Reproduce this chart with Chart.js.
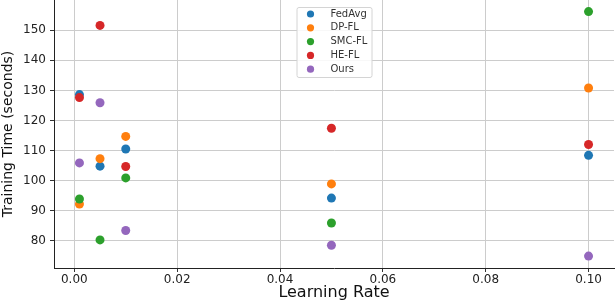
<!DOCTYPE html>
<html>
<head>
<meta charset="utf-8">
<script src="https://cdn.jsdelivr.net/npm/chart.js@4.4.1/dist/chart.umd.min.js"></script>
<style>
  body { margin: 0; background: #fff; }
  canvas { display: block; }
</style>
</head>
<body>
<canvas id="lrChart" width="616" height="302"></canvas>
<script>
// data
const learningRates = [0.001, 0.005, 0.01, 0.05, 0.1];
const methods = ["FedAvg", "DP-FL", "SMC-FL", "HE-FL", "Ours"];
const fedAvg = [128.6, 104.8, 110.5, 94.2, 108.4];
const dpFl = [92.2, 107.3, 114.7, 98.9, 130.8];
const smcFl = [93.9, 80.3, 100.9, 85.9, 156.2];
const heFl = [127.6, 151.6, 104.7, 117.4, 112.0];
const ours = [105.9, 125.9, 83.4, 78.5, 74.9];
const xTicks = [0, 0.02, 0.04, 0.06, 0.08, 0.1];
const yTicks = [80, 90, 100, 110, 120, 130, 140, 150];

const colors = ["#1f77b4", "#ff7f0e", "#2ca02c", "#d62728", "#9467bd"];
const series = [fedAvg, dpFl, smcFl, heFl, ours];

const datasets = series.map((vals, i) => ({
  label: methods[i],
  data: vals.map((v, j) => ({ x: learningRates[j], y: v })),
  backgroundColor: colors[i],
  borderColor: colors[i],
  borderWidth: 0,
  pointRadius: 4.5,
  order: series.length - i,
}));

// matplotlib-like legend drawn inside the plot area
const innerLegend = {
  id: "innerLegend",
  afterDraw(chart) {
    const ctx = chart.ctx;
    const area = chart.chartArea;
    const w = 75, h = 70;
    const left = (area.left + area.right) / 2 - w / 2;
    const top = area.top + 7;
    ctx.save();
    ctx.fillStyle = "rgba(255,255,255,0.85)";
    ctx.strokeStyle = "#d4d4d4";
    ctx.lineWidth = 1;
    ctx.beginPath();
    ctx.roundRect(left + 0.5, top + 0.5, w, h, 2);
    ctx.fill();
    ctx.stroke();
    ctx.font = "10px 'DejaVu Sans'";
    ctx.textBaseline = "middle";
    methods.forEach((name, i) => {
      const y = top + 7 + i * 13.8;
      ctx.fillStyle = colors[i];
      ctx.beginPath();
      ctx.arc(left + 14, y, 3.6, 0, Math.PI * 2);
      ctx.fill();
      ctx.fillStyle = "#333";
      ctx.fillText(name, left + 34, y);
    });
    ctx.restore();
  },
};

new Chart(document.getElementById("lrChart").getContext("2d"), {
  type: "scatter",
  data: { datasets },
  options: {
    responsive: false,
    animation: false,
    devicePixelRatio: 1,
    layout: { autoPadding: false, padding: { top: 0, right: 2, left: 0, bottom: 0 } },
    plugins: {
      legend: { display: false },
      tooltip: { enabled: false },
    },
    scales: {
      x: {
        type: "linear",
        min: -0.00395,
        max: 0.10495,
        afterBuildTicks: (scale) => {
          scale.ticks = xTicks.map((v) => ({ value: v }));
        },
        afterFit: (scale) => {
          scale.height = 34;
          scale.paddingLeft = 0;
          scale.paddingRight = 0;
        },
        ticks: {
          padding: 1,
          color: "#222",
          font: { family: "DejaVu Sans", size: 12 },
          callback: (v) => v.toFixed(2),
        },
        grid: { color: "#cccccc", tickColor: "#333", tickLength: 4 },
        border: { display: true, color: "#222", width: 1 },
        title: {
          display: true,
          text: "Learning Rate",
          color: "#111",
          font: { family: "DejaVu Sans", size: 16 },
          padding: { top: 0, bottom: 0 },
        },
      },
      y: {
        type: "linear",
        min: 70.95,
        max: 160.05,
        afterBuildTicks: (scale) => {
          scale.ticks = yTicks.map((v) => ({ value: v }));
        },
        afterFit: (scale) => {
          scale.width = 54;
          scale.paddingTop = 0;
          scale.paddingBottom = 0;
        },
        ticks: {
          padding: 4,
          color: "#222",
          font: { family: "DejaVu Sans", size: 12 },
        },
        grid: { color: "#cccccc", tickColor: "#333", tickLength: 4 },
        border: { display: true, color: "#222", width: 1 },
        title: {
          display: true,
          text: "Training Time (seconds)",
          color: "#111",
          font: { family: "DejaVu Sans", size: 14 },
          padding: { top: 0, bottom: 0 },
        },
      },
    },
  },
  plugins: [innerLegend],
});
</script>
</body>
</html>
